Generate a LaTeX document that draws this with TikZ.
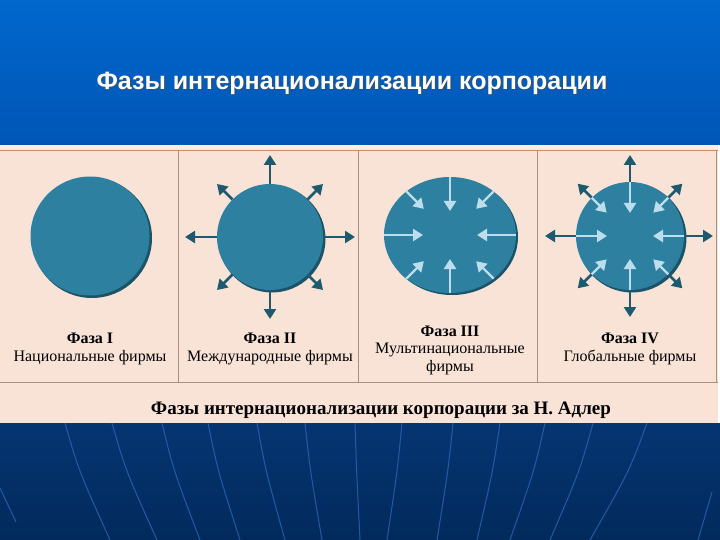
\documentclass[tikz,border=0pt]{standalone}
\usepackage{fontspec}
\setmainfont{Liberation Serif}
\newfontfamily\titlefont{Liberation Sans}
\usetikzlibrary{arrows.meta,shapes.geometric,calc}
\definecolor{topblue}{HTML}{0067CD}
\definecolor{topblue2}{HTML}{0056B6}
\definecolor{navy}{HTML}{053572}
\definecolor{navy2}{HTML}{022A5C}
\definecolor{beige}{HTML}{F9E3D7}
\definecolor{globe}{HTML}{2E80A0}
\definecolor{globesh}{HTML}{1B5368}
\definecolor{darkarr}{HTML}{1D5A70}
\definecolor{lightarr}{HTML}{BCDDEC}
\definecolor{gridline}{HTML}{A88F82}
\definecolor{topline}{HTML}{D98A60}
\definecolor{meridian}{HTML}{2C66B2}
\tikzset{
  ball/.style={circle,fill=globe,inner sep=0pt,minimum size=#1},
  ballsh/.style={circle,fill=globesh,inner sep=0pt,minimum size=#1},
  darrow/.style={draw=darkarr,line width=2.6pt,-{Triangle[width=12pt,length=10pt]}},
  larrow/.style={draw=lightarr,line width=2.4pt,-{Triangle[width=12pt,length=10pt]}},
  caption/.style={font=\fontsize{16}{17.5}\selectfont,align=center,inner sep=0pt},
  cell/.style={draw=gridline,line width=0.8pt},
  mer/.style={draw=meridian,line width=1pt,opacity=0.8}
}
\begin{document}
\begin{tikzpicture}[x=1pt,y=-1pt]
\useasboundingbox (0,0) rectangle (720,540);
% backgrounds
\shade[top color=topblue,bottom color=topblue2] (0,0) rectangle (720,145);
\shade[top color=navy,bottom color=navy2] (0,423) rectangle (720,540);
\fill[beige] (0,145) rectangle (718,423);
\fill[white,opacity=0.4] (0,145) rectangle (718,149);
% meridians
\foreach \t/\b in {65/110,112/157,162/200,208/240,257/285,305/322,355/360,402/387,453/437,500/477,545/510,593/550,647/590}
  \draw[mer] (\t,423) .. controls ({\t+(\b-\t)*0.3},470) .. (\b,540);
\draw[mer] (0,488) -- (16,522);
\draw[mer] (712,492) -- (698,540);
% table
\draw[topline,line width=0.9pt] (0,150) -- (718,150);
\draw[cell] (0,382) -- (718,382);
\foreach \x in {178,358,537,716} \draw[cell] (\x,150) -- (\x,382);
% title
\node[font=\titlefont\bfseries\fontsize{25}{30}\selectfont,text=black!70,opacity=0.6] at (353.5,84.5) {Фазы интернационализации корпорации};
\node[font=\titlefont\bfseries\fontsize{25}{30}\selectfont,text=white] (title) at (352,83) {Фазы интернационализации корпорации};
% Phase I
\node[ballsh=120pt] at (92,238) {};
\node[ball=119pt] (c1) at (90,236) {};
% Phase II
\node[ballsh=107pt] at (272,239) {};
\node[ball=106pt] (c2) at (270,237) {};
\foreach \a/\d in {0/85,90/82,180/85,270/82,45/75,135/75,225/75,315/75}{
  \coordinate (o2-\a) at ($(c2.center)+(\a:\d pt)$);
  \draw[darrow] (c2.\a) -- (o2-\a);
}
% Phase III
\node[ellipse,fill=globesh,inner sep=0pt,minimum width=132pt,minimum height=116pt] at (452,237) {};
\node[ellipse,fill=globe,inner sep=0pt,minimum width=132pt,minimum height=116pt] (c3) at (450,235) {};
\foreach \a/\d in {0/27,90/24,180/27,270/24,45/37,135/37,225/37,315/37}{
  \coordinate (i3-\a) at ($(c3.center)+(\a:\d pt)$);
  \draw[larrow] (c3.\a) -- (i3-\a);
}
% Phase IV
\node[ballsh=109pt] at (632,238) {};
\node[ball=108pt] (c4) at (630,236) {};
\foreach \a/\d in {0/83,90/81,180/85,270/81,45/74,135/74,225/74,315/74}{
  \coordinate (o4-\a) at ($(c4.center)+(\a:\d pt)$);
  \draw[darrow] (c4.\a) -- (o4-\a);
}
\foreach \a/\d in {0/23,90/23,180/23,270/23,45/33,135/33,225/33,315/33}{
  \coordinate (i4-\a) at ($(c4.center)+(\a:\d pt)$);
  \draw[larrow] (c4.\a) -- (i4-\a);
}
% captions
\node[caption] (t1) at (90,349) {\textbf{Фаза I}\\Национальные фирмы};
\node[caption] (t2) at (270,349) {\textbf{Фаза II}\\Международные фирмы};
\node[caption] (t3) at (450,350) {\textbf{Фаза III}\\Мультинациональные\\фирмы};
\node[caption] (t4) at (630,349) {\textbf{Фаза IV}\\Глобальные фирмы};
\node[font=\bfseries\fontsize{19}{22}\selectfont] (cap) at (381,410) {Фазы интернационализации корпорации за Н. Адлер};
\end{tikzpicture}
\end{document}
